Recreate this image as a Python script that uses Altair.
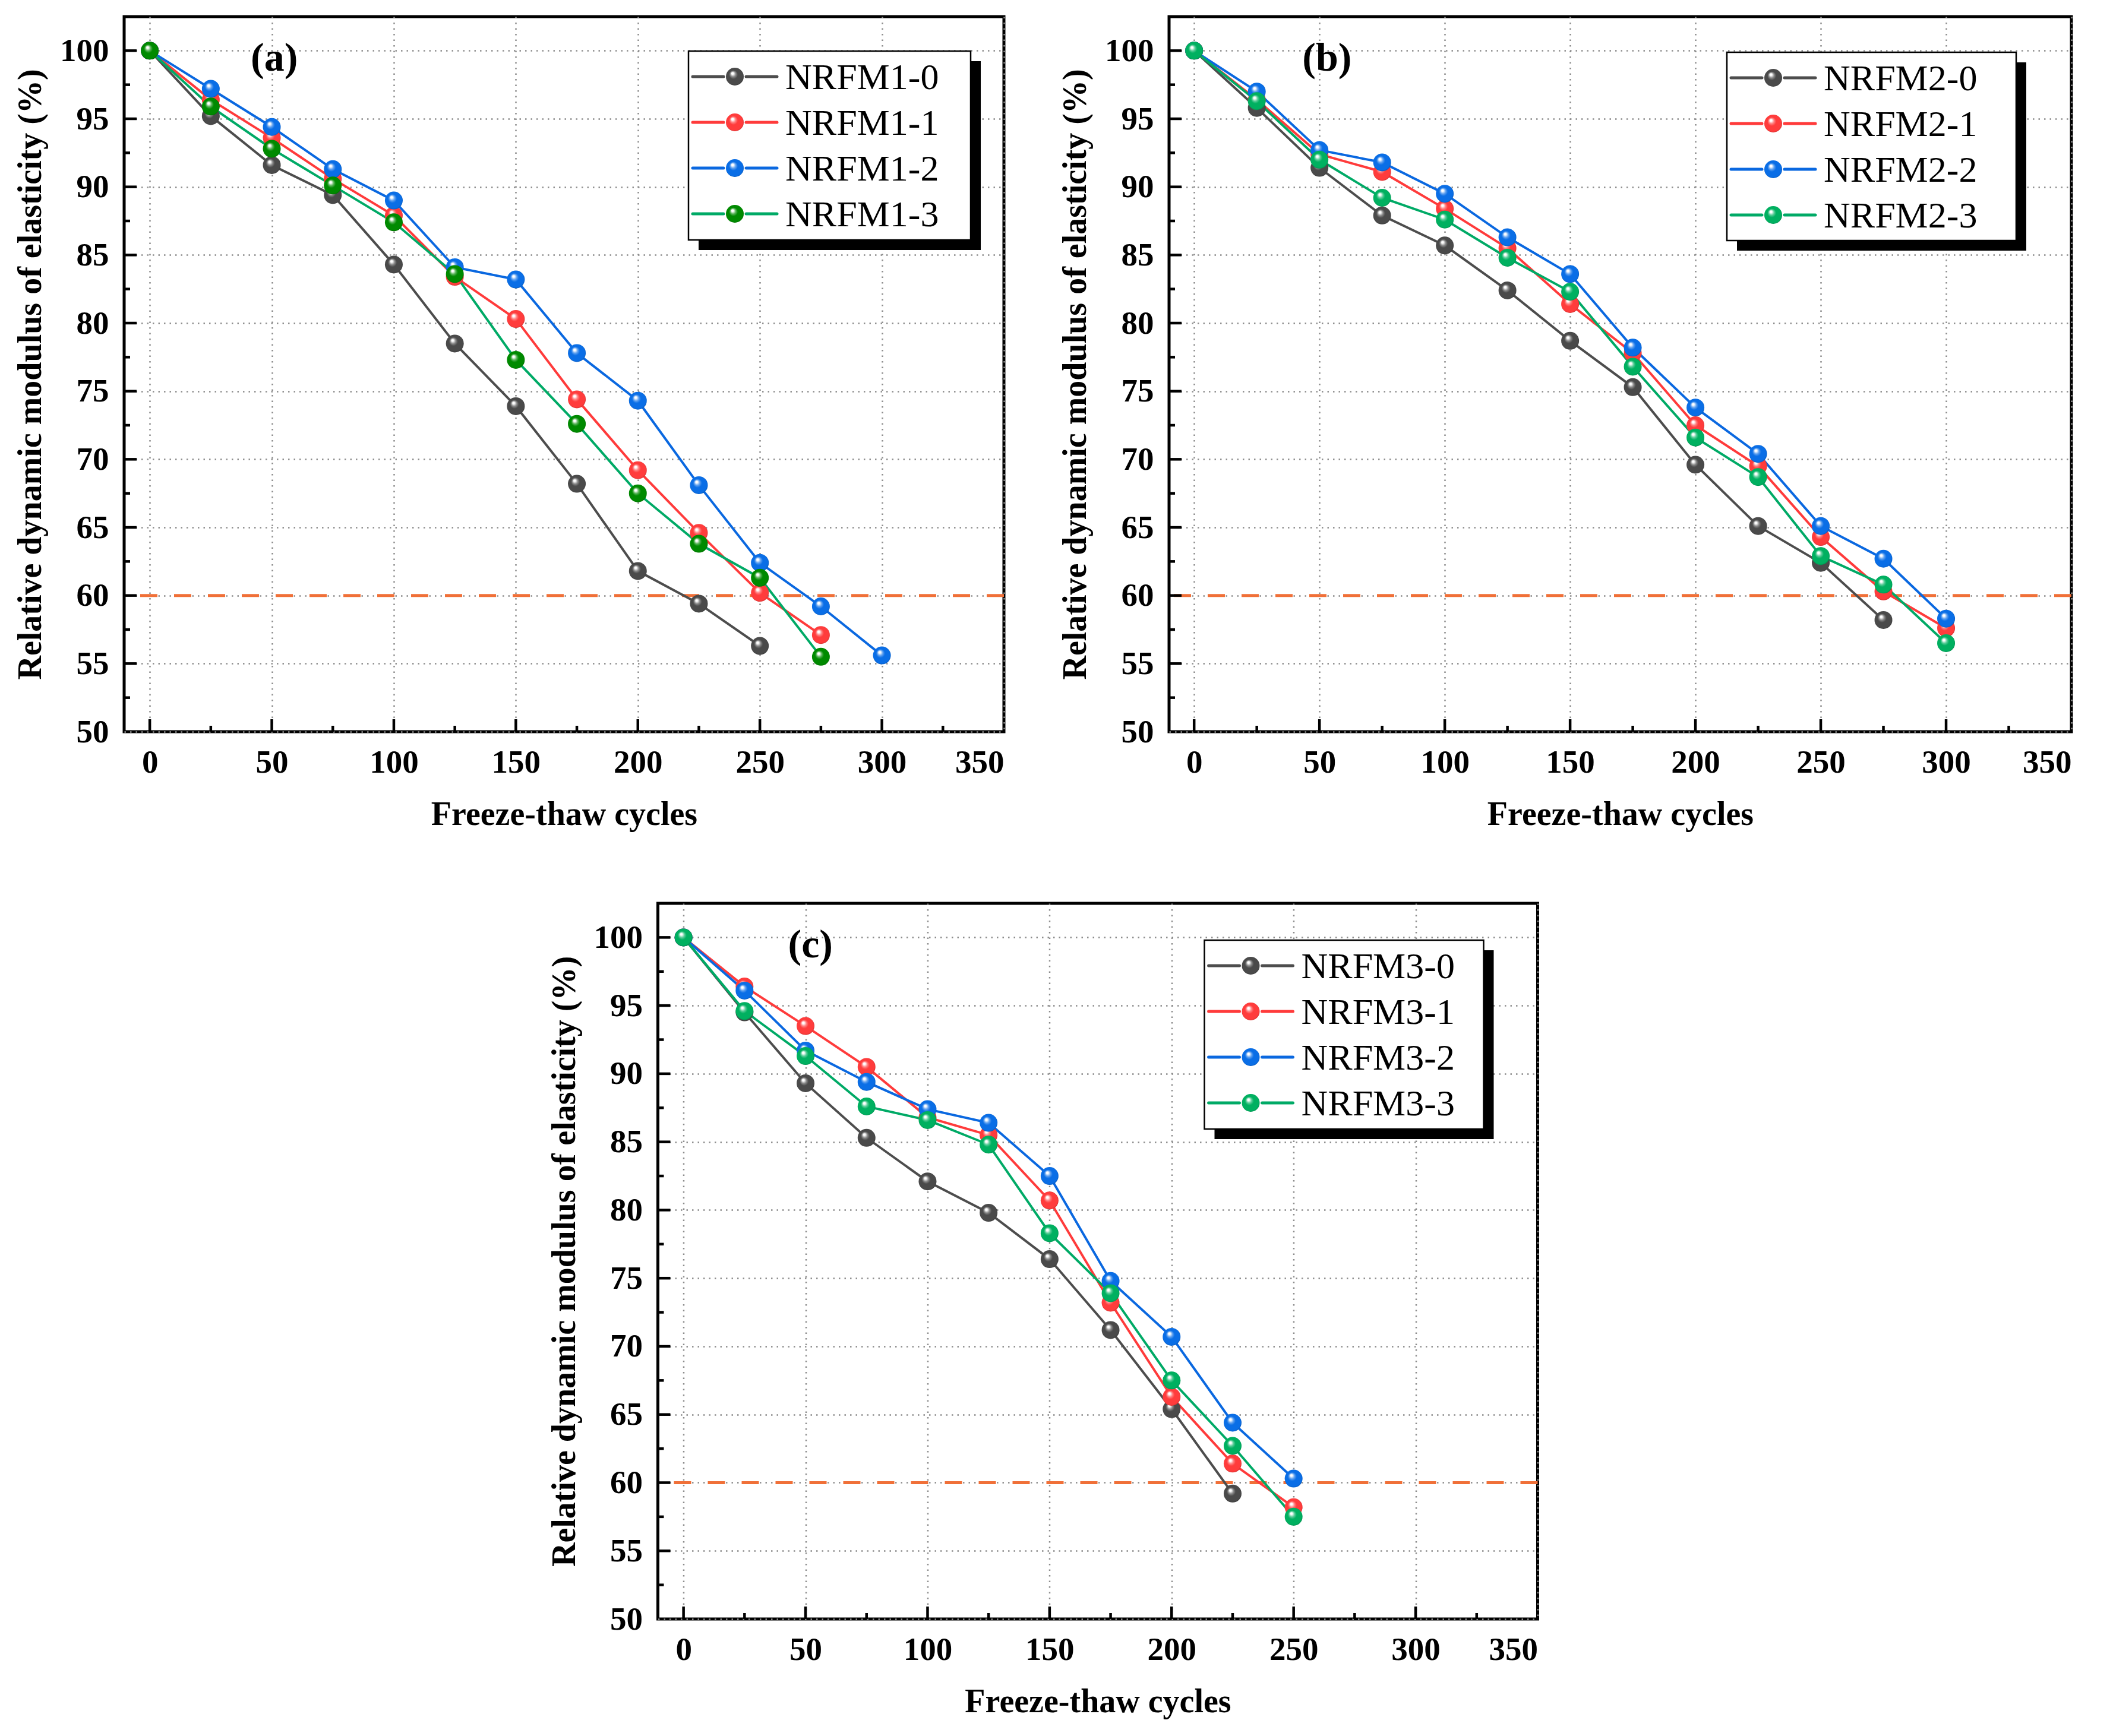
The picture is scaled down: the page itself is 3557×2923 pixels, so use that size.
import altair as alt
import pandas as pd

# ---------------- data ----------------
cycles = [0, 25, 50, 75, 100, 125, 150, 175, 200, 225, 250, 275, 300]

names_a = ["NRFM1-0", "NRFM1-1", "NRFM1-2", "NRFM1-3"]
NRFM1_0 = [100, 95.2, 91.6, 89.4, 84.3, 78.5, 73.9, 68.2, 61.8, 59.4, 56.3]
NRFM1_1 = [100, 96.4, 93.6, 90.6, 87.9, 83.4, 80.3, 74.4, 69.2, 64.6, 60.2, 57.1]
NRFM1_2 = [100, 97.2, 94.4, 91.3, 89.0, 84.1, 83.2, 77.8, 74.3, 68.1, 62.4, 59.2, 55.6]
NRFM1_3 = [100, 95.9, 92.8, 90.1, 87.4, 83.6, 77.3, 72.6, 67.5, 63.8, 61.3, 55.5]

names_b = ["NRFM2-0", "NRFM2-1", "NRFM2-2", "NRFM2-3"]
NRFM2_0 = [100, 95.8, 91.4, 87.9, 85.7, 82.4, 78.7, 75.3, 69.6, 65.1, 62.4, 58.2]
NRFM2_1 = [100, 96.4, 92.4, 91.1, 88.4, 85.5, 81.4, 77.8, 72.5, 69.5, 64.3, 60.3, 57.6]
NRFM2_2 = [100, 97.0, 92.7, 91.8, 89.5, 86.3, 83.6, 78.2, 73.8, 70.4, 65.1, 62.7, 58.3]
NRFM2_3 = [100, 96.3, 92.0, 89.2, 87.6, 84.8, 82.3, 76.8, 71.6, 68.7, 62.9, 60.8, 56.5]

names_c = ["NRFM3-0", "NRFM3-1", "NRFM3-2", "NRFM3-3"]
NRFM3_0 = [100, 94.5, 89.3, 85.3, 82.1, 79.8, 76.4, 71.2, 65.4, 59.2]
NRFM3_1 = [100, 96.4, 93.5, 90.5, 86.8, 85.5, 80.7, 73.2, 66.3, 61.4, 58.2]
NRFM3_2 = [100, 96.1, 91.7, 89.4, 87.4, 86.4, 82.5, 74.8, 70.7, 64.4, 60.3]
NRFM3_3 = [100, 94.6, 91.3, 87.6, 86.6, 84.8, 78.3, 73.9, 67.5, 62.7, 57.5]

x_major = [0, 50, 100, 150, 200, 250, 300]
x_minor = [25, 75, 125, 175, 225, 275, 325]
y_major = [55, 60, 65, 70, 75, 80, 85, 90, 95, 100]
y_minor = [52.5, 57.5, 62.5, 67.5, 72.5, 77.5, 82.5, 87.5, 92.5, 97.5]
threshold = [60]

x_title = "Freeze-thaw cycles"
y_title = "Relative dynamic modulus of elasticity (%)"

ball_colors_a = ["#4a4a4a", "#ff3c3c", "#0a6ee6", "#008a00"]
line_colors_a = ["#4d4d4d", "#ff3b3b", "#0a68e0", "#00aa66"]
ball_colors_bc = ["#4a4a4a", "#ff3c3c", "#0a6ee6", "#00b060"]
line_colors_bc = ["#4d4d4d", "#ff3b3b", "#0a68e0", "#00aa66"]

SERIF = "Liberation Serif"


def mix(c1, c2, t):
    a = [int(c1[i:i + 2], 16) for i in (1, 3, 5)]
    b = [int(c2[i:i + 2], 16) for i in (1, 3, 5)]
    m = [round(a[k] + (b[k] - a[k]) * t) for k in range(3)]
    return "#%02x%02x%02x" % tuple(m)


def ball(c):
    return alt.RadialGradient(
        gradient="radial",
        x1=0.36, y1=0.3, r1=0.0,
        x2=0.5, y2=0.5, r2=0.55,
        stops=[
            alt.GradientStop(offset=0.0, color="#ffffff"),
            alt.GradientStop(offset=0.1, color="#ffffff"),
            alt.GradientStop(offset=0.28, color=mix(c, "#ffffff", 0.35)),
            alt.GradientStop(offset=0.45, color=c),
            alt.GradientStop(offset=0.85, color=c),
            alt.GradientStop(offset=1.0, color=mix(c, "#000000", 0.3)),
        ],
    )


def panel(series, names, bcols, lcols, xmin, W, H, label, label_x, box):
    xs = alt.Scale(domain=[xmin, 350], nice=False, zero=False)
    ys = alt.Scale(domain=[50, 102.5], nice=False, zero=False)
    xaxis = alt.Axis(values=x_major + [350], title=x_title, grid=True, ticks=False, tickSize=0,
                     domain=False, labelPadding=25, titlePadding=33)
    yaxis = alt.Axis(values=[50] + y_major, title=y_title, grid=True, ticks=False, tickSize=0,
                     domain=False, labelPadding=26, titlePadding=20)
    X = alt.X("cycles:Q", scale=xs, axis=xaxis)
    Y = alt.Y("value:Q", scale=ys, axis=yaxis)

    layers = []
    # threshold line at 60 %
    layers.append(
        alt.Chart(pd.DataFrame({"value": threshold}))
        .mark_rule(color="#f07038", strokeWidth=5, strokeDash=[29, 28])
        .encode(y=Y)
    )
    dfs = [pd.DataFrame({"cycles": cycles[:len(v)], "value": v}) for v in series]
    for df, lc in zip(dfs, lcols):
        layers.append(alt.Chart(df).mark_line(color=lc, strokeWidth=4).encode(x=X, y=Y))
    for df, bc in zip(dfs, bcols):
        layers.append(
            alt.Chart(df)
            .mark_point(shape="circle", filled=True, size=900, opacity=1, fill=ball(bc), strokeWidth=0)
            .encode(x=X, y=Y)
        )
    # inward ticks
    for vals, ln in ((x_major, 21), (x_minor, 10)):
        layers.append(
            alt.Chart(pd.DataFrame({"cycles": vals}))
            .mark_rule(color="black", strokeWidth=4.5)
            .encode(x=X, y=alt.value(H), y2=alt.value(H - ln))
        )
    for vals, ln in ((y_major, 21), (y_minor, 10)):
        layers.append(
            alt.Chart(pd.DataFrame({"value": vals}))
            .mark_rule(color="black", strokeWidth=4.5)
            .encode(y=Y, x=alt.value(0), x2=alt.value(ln))
        )
    # panel label
    one = pd.DataFrame({"k": [0]})
    lx = (label_x - xmin) / (350 - xmin) * W
    ly = (102.5 - 99.4) / 52.5 * H
    layers.append(
        alt.Chart(one).mark_text(text=label, font=SERIF, fontWeight="bold", fontSize=68,
                                 align="center", baseline="middle", color="black")
        .encode(x=alt.value(lx), y=alt.value(ly))
    )
    # legend (box with shadow)
    bl, bt, bw, bh = box
    layers.append(
        alt.Chart(one).mark_rect(color="black")
        .encode(x=alt.value(bl + 17), x2=alt.value(bl + bw + 17),
                y=alt.value(bt + 17), y2=alt.value(bt + bh + 17))
    )
    layers.append(
        alt.Chart(one).mark_rect(fill="white", stroke="black", strokeWidth=2.5)
        .encode(x=alt.value(bl), x2=alt.value(bl + bw), y=alt.value(bt), y2=alt.value(bt + bh))
    )
    for i, (nm, bc, lc) in enumerate(zip(names, bcols, lcols)):
        ry = bt + 43 + i * 77
        for a0, a1 in ((bl + 7, bl + 59), (bl + 97, bl + 149)):
            layers.append(
                alt.Chart(one).mark_rule(color=lc, strokeWidth=5, strokeCap="round")
                .encode(x=alt.value(a0), x2=alt.value(a1), y=alt.value(ry))
            )
        layers.append(
            alt.Chart(one).mark_point(shape="circle", filled=True, size=900, opacity=1,
                                      fill=ball(bc), strokeWidth=0)
            .encode(x=alt.value(bl + 78), y=alt.value(ry))
        )
        layers.append(
            alt.Chart(one).mark_text(text=nm, font=SERIF, fontSize=62, align="left",
                                     baseline="middle", color="black")
            .encode(x=alt.value(bl + 163), y=alt.value(ry + 2))
        )
    return alt.layer(*layers).properties(width=W, height=H)


pa = panel([NRFM1_0, NRFM1_1, NRFM1_2, NRFM1_3], names_a, ball_colors_a, line_colors_a,
           -10.5, 1481, 1204, "(a)", 51, (950, 58, 475, 318))
pb = panel([NRFM2_0, NRFM2_1, NRFM2_2, NRFM2_3], names_b, ball_colors_bc, line_colors_bc,
           -10, 1519, 1204, "(b)", 53, (939, 60, 487, 317))
pc = panel([NRFM3_0, NRFM3_1, NRFM3_2, NRFM3_3], names_c, ball_colors_bc, line_colors_bc,
           -10.5, 1481, 1205, "(c)", 52, (920, 62, 470, 318))

top = alt.hconcat(pa, pb, spacing=85)
chart = (
    alt.vconcat(top, pc, spacing=116, center=True)
    .properties(padding={"left": 13, "top": 17, "right": 10, "bottom": 10}, background="white")
    .configure_view(stroke="black", strokeWidth=5)
    .configure_axis(
        labelFont=SERIF, labelFontWeight="bold", labelFontSize=55, labelColor="black",
        titleFont=SERIF, titleFontWeight="bold", titleFontSize=56, titleColor="black",
        gridColor="#8c8c8c", gridDash=[2.5, 7], gridWidth=2.5, gridOpacity=1,
    )
)

chart.save("out.html", embed_options={"renderer": "svg", "actions": False})
